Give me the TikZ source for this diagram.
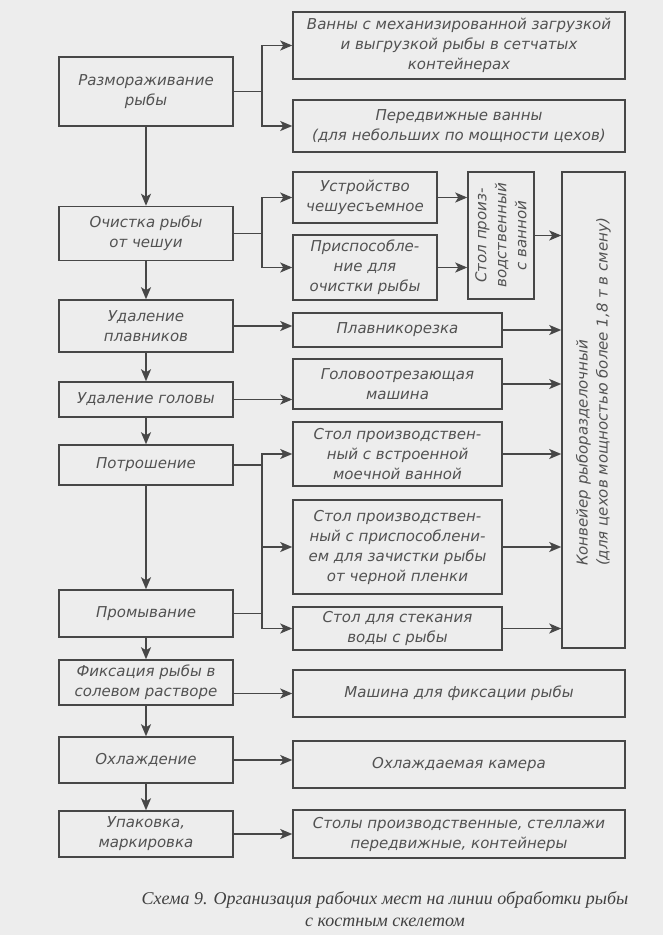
\documentclass[tikz,border=0pt]{standalone}
\usepackage{fontspec}
\usepackage{tikz}
\usetikzlibrary{arrows.meta}
\newfontfamily\boxfont{DejaVu Sans}
\newfontfamily\capfont{Liberation Serif}

\begin{document}
\begin{tikzpicture}[x=1pt, y=-1pt, >={Stealth[length=12pt,width=10pt,inset=3pt]},
    line width=1.5pt, draw=black!72,
    box/.style={draw=black!72, align=center, inner sep=2pt, text=black!68,
      font=\boxfont\itshape\fontsize{15}{20}\selectfont},
    oper/.style={box, minimum width=174pt},
    wide/.style={box, minimum width=332pt},
    narrow/.style={box, minimum width=144pt},
    mid/.style={box, minimum width=209pt},
    vert/.style={box, rotate=90}]

    % paper
    \fill[black!7] (0,0) rectangle (663,935);

    % operations
    \node[oper, minimum height=69pt] (raz) at (146,91.5) {Размораживание\\рыбы};
    \node[oper, minimum height=54pt] (ochist) at (146,233.5) {Очистка рыбы\\от чешуи};
    \node[oper, minimum height=52pt] (plavn) at (146,326) {Удаление\\плавников};
    \node[oper, minimum height=35pt] (golov) at (146,399.5) {Удаление головы};
    \node[oper, minimum height=40pt] (potr) at (146,465) {Потрошение};
    \node[oper, minimum height=47pt] (promyv) at (146,613.5) {Промывание};
    \node[oper, minimum height=45pt] (fiks) at (146,682.5) {Фиксация рыбы в\\солевом растворе};
    \node[oper, minimum height=46pt] (ohl) at (146,760) {Охлаждение};
    \node[oper, minimum height=46pt] (upak) at (146,834) {Упаковка,\\маркировка};

    % equipment
    \node[wide, minimum height=67pt] (vann) at (459,45.5) {Ванны с механизированной загрузкой\\и выгрузкой рыбы в сетчатых\\контейнерах};
    \node[wide, minimum height=52pt] (peredv) at (459,126) {Передвижные ванны\\(для небольших по мощности цехов)};
    \node[narrow, minimum height=51pt] (ustr) at (365,197.5) {Устройство\\чешуесъемное};
    \node[narrow, minimum height=65pt] (prisp) at (365,267.5) {Приспособле-\\ние для\\очистки рыбы};
    \node[vert, minimum width=127pt, minimum height=66pt] (stol) at (501,235.5) {Стол произ-\\водственный\\с ванной};
    \node[vert, minimum width=476pt, minimum height=63pt] (konv) at (593.5,410)
      {\hspace*{36pt}\begin{tabular}{@{}l@{}}Конвейер рыборазделочный\\(для цехов мощностью более 1,8 т в смену)\end{tabular}};
    \node[mid, minimum height=34pt] (plavrez) at (397.5,330) {Плавникорезка};
    \node[mid, minimum height=50pt] (golmash) at (397.5,384) {Головоотрезающая\\машина};
    \node[mid, minimum height=64pt] (stolvstr) at (397.5,454) {Стол производствен-\\ный с встроенной\\моечной ванной};
    \node[mid, minimum height=94pt] (stolprisp) at (397.5,547) {Стол производствен-\\ный с приспособлени-\\ем для зачистки рыбы\\от черной пленки};
    \node[mid, minimum height=43pt] (stolstek) at (397.5,628.5) {Стол для стекания\\воды с рыбы};
    \node[wide, minimum height=47pt] (mashfiks) at (459,693.5) {Машина для фиксации рыбы};
    \node[wide, minimum height=47pt] (kamera) at (459,764.5) {Охлаждаемая камера};
    \node[wide, minimum height=48pt] (stoly) at (459,834) {Столы производственные, стеллажи\\передвижные, контейнеры};

    \node[text=black!75, align=center, font=\capfont\itshape\fontsize{18}{22}\selectfont] (caption) at (385,909)
      {Схема 9. Организация рабочих мест на линии обработки рыбы\\с костным скелетом};

    % branch points
    \coordinate (j1) at (262,91.5);
    \coordinate (j2) at (262,233.5);
    \coordinate (j5) at (262,465);

    % main line
    \draw[->] (raz) -- (ochist);
    \draw[->] (ochist) -- (plavn);
    \draw[->] (plavn) -- (golov);
    \draw[->] (golov) -- (potr);
    \draw[->] (potr) -- (promyv);
    \draw[->] (promyv) -- (fiks);
    \draw[->] (fiks) -- (ohl);
    \draw[->] (ohl) -- (upak);

    % to equipment
    \draw (raz.east) -- (j1);
    \draw[->] (j1) |- (vann.west);
    \draw[->] (j1) |- (peredv.west);
    \draw (ochist.east) -- (j2);
    \draw[->] (j2) |- (ustr.west);
    \draw[->] (j2) |- (prisp.west);
    \draw[->] (plavn.east) -- (plavn.east -| plavrez.west);
    \draw[->] (golov.east) -- (golov.east -| golmash.west);
    \draw (potr.east) -- (j5);
    \draw[->] (j5) |- (stolvstr.west);
    \draw[->] (j5) |- (stolprisp.west);
    \draw[->] (j5) |- (stolstek.west);
    \draw (promyv.east) -- (promyv.east -| j5);
    \draw[->] (mashfiks.west -| fiks.east) -- (mashfiks.west);
    \draw[->] (ohl.east) -- (ohl.east -| kamera.west);
    \draw[->] (upak.east) -- (upak.east -| stoly.west);

    % rotated boxes: north is the left side
    \draw[->] (ustr.east) -- (ustr.east -| stol.north);
    \draw[->] (prisp.east) -- (prisp.east -| stol.north);
    \draw[->] (stol.south) -- (stol.south -| konv.north);
    \draw[->] (plavrez.east) -- (plavrez.east -| konv.north);
    \draw[->] (golmash.east) -- (golmash.east -| konv.north);
    \draw[->] (stolvstr.east) -- (stolvstr.east -| konv.north);
    \draw[->] (stolprisp.east) -- (stolprisp.east -| konv.north);
    \draw[->] (stolstek.east) -- (stolstek.east -| konv.north);
\end{tikzpicture}
\end{document}
